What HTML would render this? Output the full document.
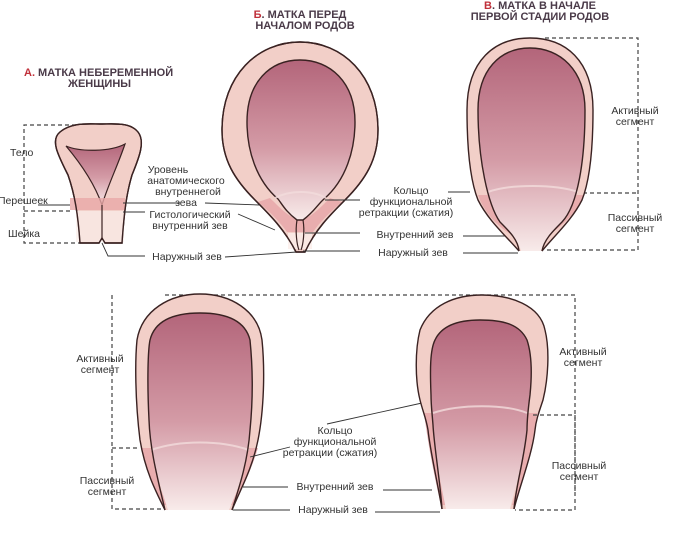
<!DOCTYPE html>
<html><head><meta charset="utf-8"><style>
html,body{margin:0;padding:0;background:#fff;}
svg{display:block;}
text{font-family:"Liberation Sans",sans-serif;font-size:10.5px;fill:#333;}
.t{font-weight:bold;font-size:11px;fill:#4a3a48;}
.r{fill:#c0303a;}
.d{stroke:#444;stroke-width:1.2;stroke-dasharray:4,3;fill:none;}
.l{stroke:#333;stroke-width:0.9;fill:none;}
.w{fill:#f2cfc8;stroke:#3a2222;stroke-width:1.4;}
.wf{fill:#f2cfc8;}
.cf{fill:url(#g);}
.s{fill:none;stroke:#3a2222;stroke-width:1.4;}
.c{fill:url(#g);stroke:#3a2222;stroke-width:1.4;}
.arc{fill:none;stroke:#f3dcdc;stroke-width:2;opacity:0.8;}
.pk{fill:#e6a2a6;opacity:0.75;}
</style></head><body>
<svg width="677" height="536" viewBox="0 0 677 536" xmlns="http://www.w3.org/2000/svg">
<defs>
<linearGradient id="g" x1="0" y1="0" x2="0" y2="1">
<stop offset="0" stop-color="#b3657a"/><stop offset="0.55" stop-color="#d49ba6"/><stop offset="1" stop-color="#f8ebea"/></linearGradient>
</defs>

<!-- A -->
<text x="24" y="76" class="t"><tspan class="r">А.</tspan> МАТКА НЕБЕРЕМЕННОЙ</text>
<text x="68" y="87" class="t">ЖЕНЩИНЫ</text>
<path class="d" d="M90,125 H24 V243 H80 M24,211 H70"/>
<path class="w" d="M80,243 C78,215 75,195 68,175 C58,155 50,140 60,132 C72,122 88,124 101,124 C114,124 130,122 138,132 C146,142 138,160 132,175 C126,195 124,215 122,243 L105,243 L102,238 L99,243 Z"/>
<path d="M66,146 C80,152 110,152 125,144 C118,165 108,185 102,205 C95,185 82,165 66,146 Z" fill="url(#g)" stroke="#3a2222" stroke-width="1.2"/>
<rect x="70" y="198" width="55" height="12" fill="#e8a8a8" opacity="0.8"/>
<rect x="76" y="211" width="48" height="31" fill="#fbeeea" opacity="0.7"/>
<path class="s" d="M80,243 C78,215 75,195 68,175 C58,155 50,140 60,132 C72,122 88,124 101,124 C114,124 130,122 138,132 C146,142 138,160 132,175 C126,195 124,215 122,243 L105,243 L102,238 L99,243 Z"/>
<line x1="102" y1="205" x2="102" y2="240" stroke="#3a2222" stroke-width="1.2"/>
<text x="10" y="156">Тело</text>
<text x="-2" y="204">Перешеек</text>
<text x="8" y="237">Шейка</text>
<path class="l" d="M38,205 H70 M123,203 H180 M123,212 H145 M102,243 L108,256 H145"/>
<text x="168" y="173" text-anchor="middle">Уровень</text>
<text x="186" y="184" text-anchor="middle">анатомического</text>
<text x="188" y="195" text-anchor="middle">внутреннегой</text>
<text x="186" y="206" text-anchor="middle">зева</text>
<text x="190" y="218" text-anchor="middle">Гистологический</text>
<text x="190" y="229" text-anchor="middle">внутренний зев</text>
<text x="187" y="260" text-anchor="middle">Наружный зев</text>
<path class="l" d="M205,203 L260,205 M238,214 L275,230 M225,257 L297,252"/>

<!-- B -->
<text x="300" y="18" class="t" text-anchor="middle"><tspan class="r">Б</tspan>. МАТКА ПЕРЕД</text>
<text x="305" y="29" class="t" text-anchor="middle">НАЧАЛОМ РОДОВ</text>
<path class="w" d="M296,252 C285,230 270,215 255,200 C235,180 222,160 222,130 C222,75 258,42 300,42 C342,42 378,75 378,130 C378,160 365,180 345,200 C330,215 315,230 305,252 Z"/>
<path class="pk" d="M258,202 C270,212 280,222 287,232 L313,232 C320,222 330,212 342,202 L330,198 C318,210 310,218 300,220 C290,218 282,210 270,198 Z"/>
<path class="c" d="M278,199 C256,180 247,150 247,122 C247,82 270,60 300,60 C330,60 355,82 355,122 C355,150 346,180 324,199 C318,204 314,212 303,220 L297,220 C286,212 282,204 278,199 Z"/>
<path class="arc" d="M275,198 C290,190 312,190 326,198"/>
<rect x="288" y="233" width="24" height="16" fill="#fbeeea" opacity="0.8"/>
<path class="s" d="M296,252 C285,230 270,215 255,200 C235,180 222,160 222,130 C222,75 258,42 300,42 C342,42 378,75 378,130 C378,160 365,180 345,200 C330,215 315,230 305,252 Z"/>
<path d="M297,220 C295,232 297,245 299,250 M303,220 C305,232 303,245 301,250" stroke="#3a2222" stroke-width="1.2" fill="none"/>
<path class="l" d="M325,200 H360 M305,233 H360 M303,251 H360"/>
<text x="411" y="194" text-anchor="middle">Кольцо</text>
<text x="411" y="205" text-anchor="middle">функциональной</text>
<text x="406" y="216" text-anchor="middle">ретракции (сжатия)</text>
<text x="415" y="238" text-anchor="middle">Внутренний зев</text>
<text x="413" y="256" text-anchor="middle">Наружный зев</text>
<path class="l" d="M448,192 H470 M463,236 H510 M463,253 H518"/>

<!-- C -->
<text x="540" y="9" class="t" text-anchor="middle"><tspan class="r">В</tspan>. МАТКА В НАЧАЛЕ</text>
<text x="540" y="20" class="t" text-anchor="middle">ПЕРВОЙ СТАДИИ РОДОВ</text>
<path class="d" d="M545,38 H638 V250 H545 M583,193 H638"/>
<path class="wf" d="M519,251 C505,235 488,220 478,200 C470,180 467,150 467,110 C467,60 495,38 530,38 C565,38 593,60 593,110 C593,150 590,180 582,200 C572,220 555,235 542,251 Z"/>
<path class="pk" d="M478,195 C485,215 500,228 512,235 L548,235 C560,228 575,215 584,195 L574,195 C565,215 555,225 545,230 L516,230 C505,225 495,212 489,195 Z"/>
<path class="cf" d="M521,251 C518,240 510,232 500,222 C488,205 478,160 478,110 C478,70 500,48 530,48 C560,48 585,70 585,110 C585,160 578,205 562,222 C552,232 544,240 541,251 Z"/>
<path class="arc" d="M488,192 C510,184 555,184 578,192"/>
<path class="s" d="M519,251 C505,235 488,220 478,200 C470,180 467,150 467,110 C467,60 495,38 530,38 C565,38 593,60 593,110 C593,150 590,180 582,200 C572,220 555,235 542,251"/>
<path class="s" d="M519,251 C518,240 510,232 500,222 C488,205 478,160 478,110 C478,70 500,48 530,48 C560,48 585,70 585,110 C585,160 578,205 562,222 C552,232 544,240 542,251"/>
<text x="635" y="114" text-anchor="middle">Активный</text>
<text x="635" y="125" text-anchor="middle">сегмент</text>
<text x="635" y="221" text-anchor="middle">Пассивный</text>
<text x="635" y="232" text-anchor="middle">сегмент</text>

<!-- D -->
<path class="d" d="M165,295 H575 V493 M112,295 V509 H165 M112,448 H140"/>
<path class="wf" d="M165,510 C155,490 145,470 140,440 C135,400 135,360 137,340 C142,310 170,294 200,294 C230,294 258,310 262,340 C265,370 264,410 258,440 C252,470 240,490 232,510 Z"/>
<path class="pk" d="M141,448 L152,448 C153,470 160,490 168,505 L163,505 C153,485 145,468 141,448 Z M258,448 L248,448 C246,470 238,490 231,505 L234,505 C244,485 252,468 258,448 Z"/>
<path class="cf" d="M168,510 C158,480 150,450 149,420 C147,380 148,350 150,340 C155,320 175,313 200,313 C225,313 245,320 250,340 C253,370 253,400 250,430 C248,460 240,485 229,510 Z"/>
<path class="arc" d="M151,450 C180,440 220,440 249,450"/>
<path class="s" d="M165,510 C155,490 145,470 140,440 C135,400 135,360 137,340 C142,310 170,294 200,294 C230,294 258,310 262,340 C265,370 264,410 258,440 C252,470 240,490 232,510"/>
<path class="s" d="M165,510 C158,480 150,450 149,420 C147,380 148,350 150,340 C155,320 175,313 200,313 C225,313 245,320 250,340 C253,370 253,400 250,430 C248,460 240,485 232,510"/>
<text x="100" y="362" text-anchor="middle">Активный</text>
<text x="100" y="373" text-anchor="middle">сегмент</text>
<text x="107" y="484" text-anchor="middle">Пассивный</text>
<text x="107" y="495" text-anchor="middle">сегмент</text>
<text x="335" y="434" text-anchor="middle">Кольцо</text>
<text x="335" y="445" text-anchor="middle">функциональной</text>
<text x="330" y="456" text-anchor="middle">ретракции (сжатия)</text>
<text x="335" y="490" text-anchor="middle">Внутренний зев</text>
<text x="333" y="513" text-anchor="middle">Наружный зев</text>
<path class="l" d="M250,457 L290,447 M243,487 H288 M233,510 H290 M327,424 L422,403 M383,490 H432 M375,512 H440"/>

<!-- E -->
<path class="wf" d="M442,509 C437,480 430,450 428,430 C426,418 423,412 420,400 C415,380 415,350 420,330 C430,305 455,295 482,295 C510,295 540,305 545,330 C550,350 548,380 543,400 C539,412 536,420 535,430 C532,455 520,485 514,509 Z"/>
<path class="pk" d="M424,413 L434,413 C434,450 440,485 446,505 L441,505 C435,480 428,445 424,413 Z M537,413 L528,413 C526,450 518,485 512,505 L515,505 C522,485 532,450 537,413 Z"/>
<path class="cf" d="M446,509 C440,480 434,445 433,425 C432,412 431,405 431,395 C430,370 430,350 435,340 C442,325 460,320 480,320 C505,320 520,325 527,340 C532,355 532,375 530,395 C528,410 527,420 527,430 C524,460 516,485 510,509 Z"/>
<path class="arc" d="M433,413 C460,404 505,404 527,413"/>
<path class="s" d="M442,509 C437,480 430,450 428,430 C426,418 423,412 420,400 C415,380 415,350 420,330 C430,305 455,295 482,295 C510,295 540,305 545,330 C550,350 548,380 543,400 C539,412 536,420 535,430 C532,455 520,485 514,509"/>
<path class="s" d="M442,509 C440,480 434,445 433,425 C432,412 431,405 431,395 C430,370 430,350 435,340 C442,325 460,320 480,320 C505,320 520,325 527,340 C532,355 532,375 530,395 C528,410 527,420 527,430 C524,460 516,485 514,509"/>
<text x="583" y="355" text-anchor="middle">Активный</text>
<text x="583" y="366" text-anchor="middle">сегмент</text>
<text x="579" y="469" text-anchor="middle">Пассивный</text>
<text x="579" y="480" text-anchor="middle">сегмент</text>
<path class="d" d="M533,415 H575 V510 H515"/>
</svg>
</body></html>
